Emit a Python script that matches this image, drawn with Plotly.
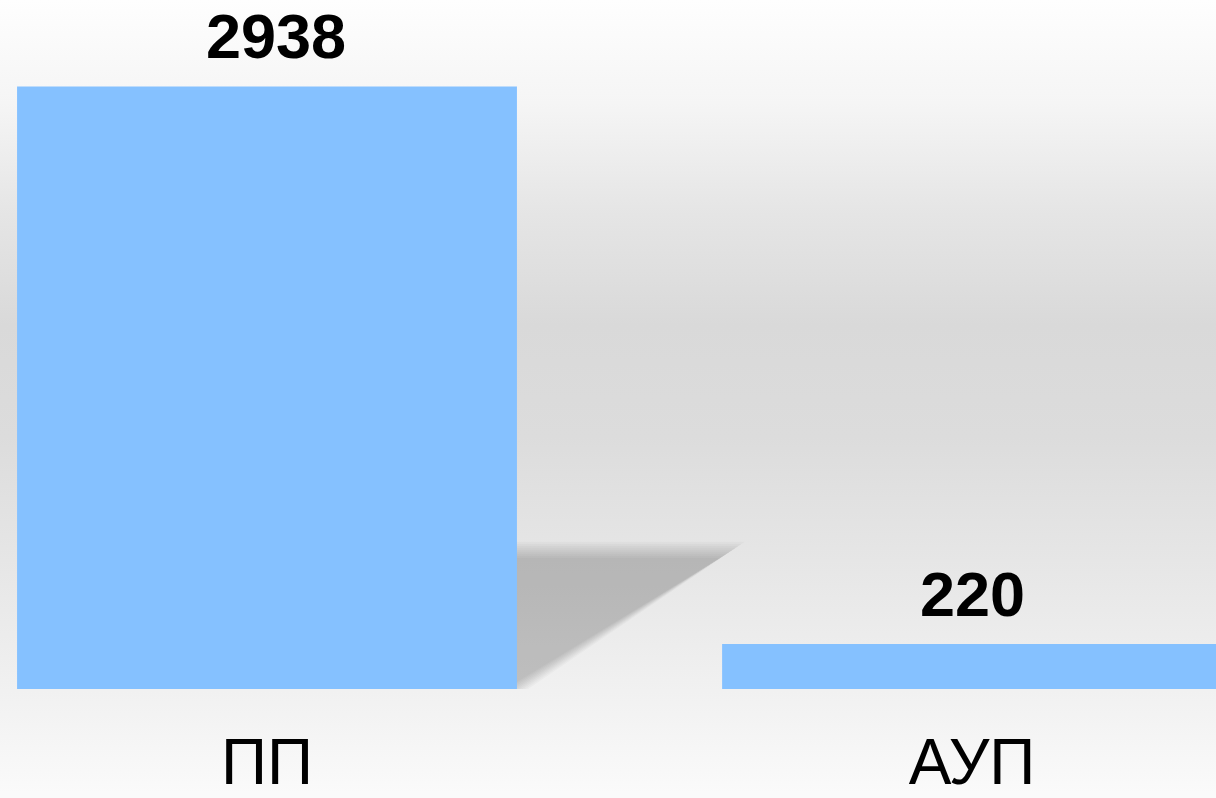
import plotly.graph_objects as go
import base64

categories = ["ПП", "АУП"]
values = [2938, 220]
value_labels = ["2938", "220"]

BAR_COLOR = "#85C1FF"
FONT = "Liberation Sans, Arial, sans-serif"
BAR_W = 0.709
label_xshift = [9, 0]

fig = go.Figure()
fig.add_trace(go.Bar(
    x=list(range(len(categories))), y=values, width=BAR_W,
    marker=dict(color=BAR_COLOR, line=dict(width=0)),
    hoverinfo="skip",
))

# value labels above bars
for i, (v, t) in enumerate(zip(values, value_labels)):
    fig.add_annotation(x=i, y=v, text="<b>%s</b>" % t, showarrow=False,
                       yanchor="bottom", yshift=13, xshift=label_xshift[i],
                       font=dict(family=FONT, size=63, color="black"))

px_per = 606 / 2938     # pixels per value unit
ux = 705.0              # pixels per category step

# soft shadow behind first bar (layered shapes to mimic blur)
v0 = values[0]
bx = 0 + BAR_W / 2                  # right edge of first bar (category units)
top = v0 * 0.231                    # shadow height (value units)
ext = 216 / ux                      # shadow reach beyond bar
layers = 9
for k in range(layers):
    e = 8 - k * (16 / (layers - 1))     # pixel expansion, outer -> inner
    ty = top + e / px_per
    tip = bx + ext + e * 1.5 / ux
    bot_x = bx - 11 / ux + e * 1.5 / ux
    bot_y = -7 / px_per
    left = bx - 30 / ux
    fig.add_shape(type="path",
                  path=f"M {left},{ty} L {tip},{ty} L {bot_x},{bot_y} L {left},{bot_y} Z",
                  xref="x", yref="y", fillcolor="rgba(0,0,0,0.022)",
                  line=dict(width=0), layer="below")

# background gradient
svg = ("<svg xmlns='http://www.w3.org/2000/svg' width='1216' height='798' viewBox='0 0 1216 798' preserveAspectRatio='none'>"
       "<defs><linearGradient id='g' x1='0' y1='0' x2='0' y2='1'>"
       "<stop offset='0' stop-color='#FEFEFE'/>"
       "<stop offset='0.13' stop-color='#F5F5F5'/>"
       "<stop offset='0.26' stop-color='#E6E6E6'/>"
       "<stop offset='0.41' stop-color='#D9D9D9'/>"
       "<stop offset='0.55' stop-color='#DCDCDC'/>"
       "<stop offset='0.8' stop-color='#ECECEC'/>"
       "<stop offset='1' stop-color='#FAFAFA'/>"
       "</linearGradient></defs><rect width='1216' height='798' fill='url(#g)'/></svg>")
src = "data:image/svg+xml;base64," + base64.b64encode(svg.encode()).decode()

B = 105
H = 798
ph = H - B
fig.add_layout_image(dict(source=src, xref="paper", yref="paper", x=0, y=1,
                          sizex=1, sizey=H / ph, sizing="stretch",
                          xanchor="left", yanchor="top", layer="below"))

fig.update_layout(
    width=1216, height=798,
    margin=dict(l=0, r=0, t=0, b=B, pad=0),
    paper_bgcolor="#FAFAFA", plot_bgcolor="rgba(0,0,0,0)",
    showlegend=False,
    xaxis=dict(range=[-0.3787, 1.346], tickvals=list(range(len(categories))),
               ticktext=categories, showgrid=False, zeroline=False, showline=False,
               ticks="", tickfont=dict(family=FONT, size=64, color="black"),
               ticklabelstandoff=30, fixedrange=True),
    yaxis=dict(range=[0, 693 / px_per], visible=False, showgrid=False, zeroline=False,
               fixedrange=True),
)

fig.write_html("out.html", config={"displayModeBar": False},
               post_script="document.body.style.margin='0';document.body.style.background='#FAFAFA';")
